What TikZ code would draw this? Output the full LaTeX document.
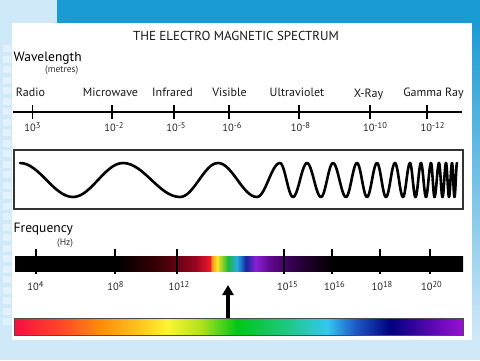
\documentclass[tikz,border=0pt]{standalone}
\usepackage{fontspec}
\setmainfont{PT Sans}
\usepackage{tikz}
\usetikzlibrary{arrows.meta,positioning}

\definecolor{bgblue}{HTML}{D0E9F9}
\definecolor{bandblue}{HTML}{1B9BD3}
\definecolor{stripblue}{HTML}{45A3DC}
\definecolor{framegray}{HTML}{333333}

% spectrum bar colours
\definecolor{sp1}{RGB}{60,0,5}
\definecolor{sp2}{RGB}{150,5,30}
\definecolor{sp3}{RGB}{235,25,45}
\definecolor{sp4}{RGB}{255,150,20}
\definecolor{sp5}{RGB}{255,225,40}
\definecolor{sp6}{RGB}{150,210,40}
\definecolor{sp7}{RGB}{30,185,60}
\definecolor{sp8}{RGB}{40,170,230}
\definecolor{sp9}{RGB}{20,40,160}
\definecolor{sp10}{RGB}{140,30,210}
\definecolor{sp11}{RGB}{100,10,150}
\definecolor{sp12}{RGB}{55,0,80}
\definecolor{sp13}{RGB}{15,0,20}

% rainbow colours
\definecolor{rb1}{RGB}{245,15,65}
\definecolor{rb2}{RGB}{255,70,40}
\definecolor{rb3}{RGB}{255,140,10}
\definecolor{rb4}{RGB}{255,190,30}
\definecolor{rb5}{RGB}{250,245,50}
\definecolor{rb6}{RGB}{180,225,30}
\definecolor{rb7}{RGB}{0,200,20}
\definecolor{rb8}{RGB}{30,200,140}
\definecolor{rb9}{RGB}{50,200,240}
\definecolor{rb10}{RGB}{30,90,200}
\definecolor{rb11}{RGB}{0,0,130}
\definecolor{rb12}{RGB}{155,15,215}

\pgfdeclarehorizontalshading{spectrum}{100bp}{color(0bp)=(black); color(36.38bp)=(black);
  color(41.18bp)=(sp1); color(45.09bp)=(sp2); color(46.76bp)=(sp3); color(46.99bp)=(sp4);
  color(47.54bp)=(sp5); color(48.10bp)=(sp6); color(48.77bp)=(sp7); color(49.78bp)=(sp8);
  color(50.78bp)=(sp9); color(51.90bp)=(sp10); color(53.24bp)=(sp11); color(55.69bp)=(sp12);
  color(59.04bp)=(sp13); color(60.71bp)=(black); color(100bp)=(black)}

\pgfdeclarehorizontalshading{rainbow}{100bp}{color(0bp)=(rb1); color(25bp)=(rb1);
  color(30.12bp)=(rb2); color(34.58bp)=(rb3); color(38.47bp)=(rb4); color(42.15bp)=(rb5);
  color(45.71bp)=(rb6); color(49.83bp)=(rb7); color(55.73bp)=(rb8); color(59.86bp)=(rb9);
  color(62.97bp)=(rb10); color(66.87bp)=(rb11); color(75bp)=(rb12); color(100bp)=(rb12)}

\newcommand{\tenpow}[1]{10\raisebox{0.55ex}{\fontsize{8.5}{9}\selectfont #1}}

\begin{document}
\begin{tikzpicture}[x=1pt, y=-1pt]
    % Define styles
    \tikzstyle{heading} = [font=\fontsize{13.5}{16}\selectfont, anchor=base west, inner sep=0pt]
    \tikzstyle{unitname} = [font=\fontsize{9.5}{11}\selectfont, anchor=base west, inner sep=0pt, text=black!80]
    \tikzstyle{bandname} = [font=\fontsize{12}{14}\selectfont, anchor=base, inner sep=0pt, text=black!90]
    \tikzstyle{power} = [font=\fontsize{10.5}{12}\selectfont, anchor=base, inner sep=0pt, text=black!85]
    \tikzstyle{stripbar} = [rectangle, minimum width=449pt, inner sep=0pt, outer sep=0pt]
    \tikzstyle{axistick} = [line width=1.8pt]
    \tikzstyle{wave} = [line width=2.6pt, line join=round, line cap=round]
    \tikzstyle{arrow} = [line width=3.2pt, -{Triangle[width=11pt,length=10pt]}]

    \useasboundingbox (0,0) rectangle (480,360);

    % Background
    \fill[bgblue] (0,0) rectangle (480,360);
    \fill[bandblue] (57,0) rectangle (480,23);
    \shade[top color=bandblue, bottom color=bgblue] (472,23) rectangle (480,340);
    \shade[top color=bgblue, middle color=stripblue, bottom color=bgblue] (0,40) rectangle (12,330);
    \foreach \i in {0,...,26}
        \fill[white, opacity=0.4] (3,{45+10.5*\i}) rectangle (11,{52+10.5*\i});
    \fill[white] (12,23) rectangle (472,340);

    % Nodes
    \node (title) [font=\fontsize{13}{15}\selectfont, anchor=base, inner sep=0pt, text=black!90] at (236,40.5) {THE ELECTRO MAGNETIC SPECTRUM};
    \node (wavelength) [heading] at (13.5,61.5) {Wavelength};
    \node (metres) [unitname] at (45,72) {(metres)};

    \node (radio) [bandname] at (30.5,96.5) {Radio};
    \node (microwave) [bandname] at (110.5,96.5) {Microwave};
    \node (infrared) [bandname] at (172.5,96.5) {Infrared};
    \node (visible) [bandname] at (229.5,96.5) {Visible};
    \node (ultraviolet) [bandname] at (297,96.5) {Ultraviolet};
    \node (xray) [bandname] at (368.5,97) {X-Ray};
    \node (gamma) [bandname] at (433.5,96) {Gamma Ray};

    % Wavelength axis
    \draw[line width=1.8pt] (13,112) -- (462,112);
    \foreach \t in {32.5,112.3,174.3,229.3,299,370,427.3}
        \draw[axistick] (\t,105) -- (\t,119);

    \node (wl_radio) [power] at (32.5,131) {\tenpow{3}};
    \node (wl_micro) [power] at (114,131) {\tenpow{-2}};
    \node (wl_infra) [power] at (176,131) {\tenpow{-5}};
    \node (wl_vis) [power] at (232,131) {\tenpow{-6}};
    \node (wl_uv) [power] at (300.5,131) {\tenpow{-8}};
    \node (wl_xray) [power] at (375,131) {\tenpow{-10}};
    \node (wl_gamma) [power] at (432.5,131) {\tenpow{-12}};

    % Wave
    \node (wave_box) [stripbar, draw=framegray, line width=1.3pt, minimum height=59pt] at (238.5,179.5) {};
    \draw[wave] (20,163) \foreach \b [remember=\b as \a (initially 20), count=\i] in
        {73,123,180,218,257,280,293,307,321,333,346,357,367,377,386,395,403,410,415.5,421,426,431,434.5,439,442.5,446,449,452,454.5,457}
        { -- plot[domain=\a:\b, samples=16] (\x, {180+cos(180*\i)*17*cos(180*(\x-\a)/(\b-\a))}) };

    \node (frequency) [heading] at (13.5,232.5) {Frequency};
    \node (hz) [unitname] at (57,245) {(Hz)};

    % Frequency bar
    \node (freq_bar) [stripbar, shade, shading=spectrum, minimum width=448pt, minimum height=15pt] at (239,263.5) {};
    \foreach \t in {35.7,115.3,177.3,284,332.3,380,430}
        \draw[axistick] (\t,249) -- (\t,274);

    \node (f_radio) [power] at (35.5,290) {\tenpow{4}};
    \node (f_micro) [power] at (115.5,290) {\tenpow{8}};
    \node (f_infra) [power] at (179,290) {\tenpow{12}};
    \node (f_uv) [power] at (287.5,290) {\tenpow{15}};
    \node (f_uv2) [power] at (334.5,290) {\tenpow{16}};
    \node (f_xray) [power] at (382,290) {\tenpow{18}};
    \node (f_gamma) [power] at (431.5,290) {\tenpow{20}};

    % Visible light
    \node (rainbow_bar) [stripbar, shade, shading=rainbow, draw=black!70, line width=1pt, minimum height=17pt] at (238.5,326.5) {};
    \coordinate (vis_tip) at (228,285);
    \draw [arrow] (rainbow_bar.north -| vis_tip) -- (vis_tip);
\end{tikzpicture}
\end{document}
